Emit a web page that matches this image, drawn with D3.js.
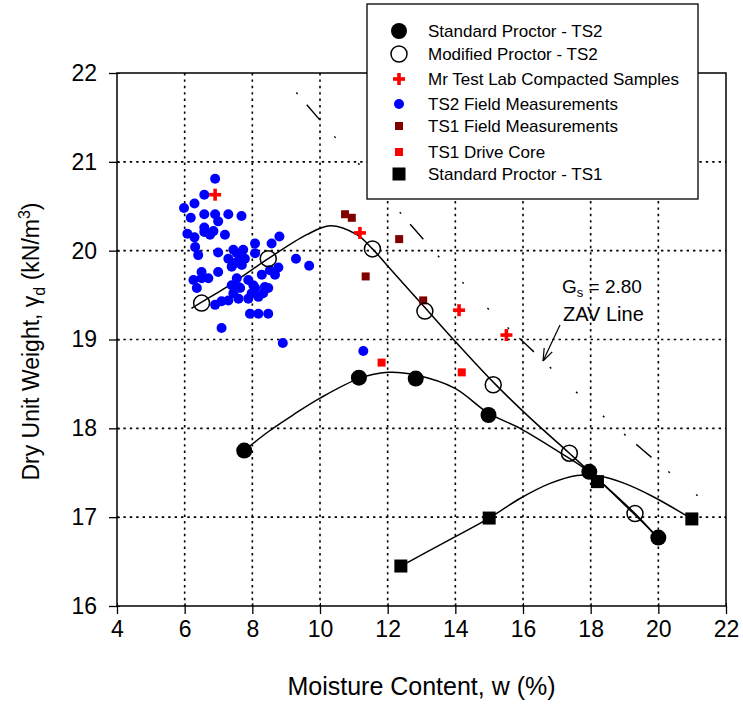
<!DOCTYPE html>
<html>
<head>
<meta charset="utf-8">
<script src="https://cdn.jsdelivr.net/npm/d3@7"></script>
<style>
  html, body { margin: 0; padding: 0; background: #fff; }
  svg { display: block; font-family: Arial, "Liberation Sans", Helvetica, sans-serif; }
</style>
</head>
<body>
<svg id="chart" width="743" height="710"></svg>
<script>
// ---- Data: moisture content w (%) vs dry unit weight (kN/m3) ----
const stdTS2W  = [7.76, 11.15, 12.83, 14.98, 17.96, 20.0];
const stdTS2Gd = [17.75, 18.57, 18.56, 18.15, 17.51, 16.77];

const modTS2W  = [6.50, 8.47, 11.55, 13.10, 15.12, 17.37, 19.31];
const modTS2Gd = [19.41, 19.91, 20.02, 19.32, 18.49, 17.72, 17.04];

const labW  = [6.90, 11.18, 14.11, 15.51];
const labGd = [20.63, 20.20, 19.33, 19.05];

const ts2FieldW  = [6.90, 6.58, 6.29, 5.98, 6.18, 6.58, 6.90, 6.99, 7.29, 7.68,
                    6.08, 6.29, 6.58, 6.58, 6.85, 6.75, 7.19, 6.31, 6.40, 6.99,
                    7.44, 7.54, 7.29, 7.64, 7.49, 7.39, 7.69, 6.50, 6.99, 6.26,
                    6.50, 6.70, 6.36, 7.54, 7.59, 7.39, 7.44, 7.29, 7.59, 7.09,
                    6.90, 7.09, 8.08, 8.57, 8.80, 7.73, 8.08, 7.78, 9.29, 9.68,
                    8.77, 8.52, 8.67, 8.28, 7.88, 8.03, 8.08, 8.37, 8.47, 8.32,
                    7.64, 7.88, 8.18, 7.98, 7.93, 8.18, 8.47, 8.90, 11.28];
const ts2FieldGd = [20.81, 20.63, 20.53, 20.48, 20.37, 20.41, 20.41, 20.33, 20.41, 20.39,
                    20.19, 20.15, 20.26, 20.21, 20.22, 20.18, 20.18, 20.04, 19.95, 19.98,
                    20.01, 19.97, 19.91, 19.91, 19.86, 19.82, 19.84, 19.76, 19.76, 19.67,
                    19.69, 19.69, 19.58, 19.69, 19.59, 19.61, 19.52, 19.44, 19.46, 19.43,
                    19.39, 19.13, 20.08, 20.08, 20.16, 20.01, 19.97, 19.91, 19.91, 19.83,
                    19.81, 19.78, 19.73, 19.73, 19.67, 19.61, 19.58, 19.59, 19.58, 19.52,
                    19.58, 19.46, 19.48, 19.52, 19.29, 19.29, 19.29, 18.96, 18.87];

const ts1FieldW  = [10.74, 10.94, 12.34, 11.35, 13.05];
const ts1FieldGd = [20.41, 20.37, 20.13, 19.71, 19.44];

const driveCoreW  = [11.82, 14.19];
const driveCoreGd = [18.74, 18.63];

const stdTS1W  = [12.39, 15.0, 18.2, 20.99];
const stdTS1Gd = [16.45, 16.99, 17.40, 16.98];

// Fitted compaction curves
const stdTS2FitW  = [7.76, 8.5, 9.2, 10.0, 11.15, 12.0, 12.83, 13.99, 14.98, 15.91, 17.0, 17.96, 19.0, 20.0];
const stdTS2FitGd = [17.75, 17.97, 18.15, 18.34, 18.56, 18.63, 18.60, 18.45, 18.17, 18.0, 17.75, 17.51, 17.14, 16.77];

const modTS2FitW  = [6.2, 6.5, 7.24, 7.78, 8.47, 9.61, 10.3, 11.09, 11.55, 12.02, 13.1, 14.04, 15.12, 16.2, 17.37, 18.0, 19.31, 19.85];
const modTS2FitGd = [19.35, 19.42, 19.59, 19.73, 19.91, 20.18, 20.28, 20.18, 20.02, 19.82, 19.36, 18.96, 18.52, 18.12, 17.72, 17.50, 17.04, 16.82];

const stdTS1FitW  = [12.3, 13.7, 15.0, 15.91, 16.8, 17.59, 18.28, 19.0, 19.85, 20.99];
const stdTS1FitGd = [16.43, 16.72, 16.99, 17.21, 17.38, 17.47, 17.46, 17.38, 17.23, 16.98];

// Zero-air-voids line, Gs = 2.80
const zavW  = [9.3, 10.0, 11.3, 12.75, 14.0, 15.2, 16.1, 17.8, 19.5, 21.2, 22.0];
const zavGd = [21.78, 21.47, 20.91, 20.26, 19.73, 19.26, 18.94, 18.33, 17.77, 17.23, 16.99];

const xTicks = [4, 6, 8, 10, 12, 14, 16, 18, 20, 22];
const yTicks = [16, 17, 18, 19, 20, 21, 22];

const legendLabels = [
  "Standard Proctor - TS2",
  "Modified Proctor - TS2",
  "Mr Test Lab Compacted Samples",
  "TS2 Field Measurements",
  "TS1 Field Measurements",
  "TS1 Drive Core",
  "Standard Proctor - TS1"
];
const legendMarkers = ["filledCircle", "openCircle", "plus", "blueDot", "maroonSquare", "redSquare", "blackSquare"];

// ---- Layout ----
const svg = d3.select("#chart");
const L = 117, R = 726, T = 73, B = 606;
const x = d3.scaleLinear().domain([4, 22]).range([L, R]);
const y = d3.scaleLinear().domain([16, 22]).range([B, T]);

const zip = (a, b) => a.map((v, i) => [v, b[i]]);

// Grid lines (dotted)
const grid = svg.append("g").attr("stroke", "#000").attr("stroke-width", 1.6).attr("stroke-dasharray", "2.4,4");
grid.selectAll("line.gx").data(xTicks.slice(1, -1)).join("line")
  .attr("x1", d => x(d)).attr("x2", d => x(d)).attr("y1", T).attr("y2", B);
grid.selectAll("line.gy").data(yTicks.slice(1, -1)).join("line")
  .attr("x1", L).attr("x2", R).attr("y1", d => y(d)).attr("y2", d => y(d));

// ZAV line
const zavLine = d3.line().x(d => x(d[0])).y(d => y(d[1])).curve(d3.curveMonotoneX);
svg.append("path").datum(zip(zavW, zavGd)).attr("d", zavLine)
  .attr("fill", "none").attr("stroke", "#000").attr("stroke-width", 1.4)
  .attr("stroke-dasharray", "2,14,20,22,2,34,2,34,2,26");

// Fitted curves
const fit = d3.line().x(d => x(d[0])).y(d => y(d[1])).curve(d3.curveCatmullRom.alpha(0.5));
[[stdTS2FitW, stdTS2FitGd], [modTS2FitW, modTS2FitGd], [stdTS1FitW, stdTS1FitGd]].forEach(([w, g]) => {
  svg.append("path").datum(zip(w, g)).attr("d", fit)
    .attr("fill", "none").attr("stroke", "#000").attr("stroke-width", 1.5);
});

// Marker drawing helper
function drawMarker(g, type, cx, cy) {
  switch (type) {
    case "filledCircle":
      g.append("circle").attr("cx", cx).attr("cy", cy).attr("r", 8).attr("fill", "#000"); break;
    case "openCircle":
      g.append("circle").attr("cx", cx).attr("cy", cy).attr("r", 8).attr("fill", "none")
        .attr("stroke", "#000").attr("stroke-width", 1.5); break;
    case "plus":
      g.append("rect").attr("x", cx - 6).attr("y", cy - 1.8).attr("width", 12).attr("height", 3.6).attr("fill", "#ff0000");
      g.append("rect").attr("x", cx - 1.8).attr("y", cy - 6).attr("width", 3.6).attr("height", 12).attr("fill", "#ff0000"); break;
    case "blueDot":
      g.append("circle").attr("cx", cx).attr("cy", cy).attr("r", 5).attr("fill", "#0000ff"); break;
    case "maroonSquare":
      g.append("rect").attr("x", cx - 4).attr("y", cy - 4).attr("width", 8).attr("height", 8).attr("fill", "#800000"); break;
    case "redSquare":
      g.append("rect").attr("x", cx - 4).attr("y", cy - 4).attr("width", 8).attr("height", 8).attr("fill", "#ff0000"); break;
    case "blackSquare":
      g.append("rect").attr("x", cx - 6.5).attr("y", cy - 6.5).attr("width", 13).attr("height", 13).attr("fill", "#000"); break;
  }
}

// Data points
const pts = svg.append("g");
const series = [
  [ts2FieldW, ts2FieldGd, "blueDot"],
  [ts1FieldW, ts1FieldGd, "maroonSquare"],
  [driveCoreW, driveCoreGd, "redSquare"],
  [labW, labGd, "plus"],
  [modTS2W, modTS2Gd, "openCircle"],
  [stdTS2W, stdTS2Gd, "filledCircle"],
  [stdTS1W, stdTS1Gd, "blackSquare"]
];
series.forEach(([w, g, type]) => {
  w.forEach((v, i) => drawMarker(pts, type, x(v), y(g[i])));
});

// Axes: frame with crossing ticks
const axisFont = 23;
const xAxis = svg.append("g").attr("transform", `translate(0,${B})`)
  .call(d3.axisBottom(x).tickValues(xTicks).tickSize(8).tickPadding(7).tickFormat(d3.format("d")));
const yAxis = svg.append("g").attr("transform", `translate(${L},0)`)
  .call(d3.axisLeft(y).tickValues(yTicks).tickSize(8).tickPadding(12).tickFormat(d3.format("d")));
svg.append("g").attr("transform", `translate(0,${B})`)
  .call(d3.axisTop(x).tickValues(xTicks).tickSize(3).tickFormat(""))
  .select(".domain").remove();
svg.append("g").attr("transform", `translate(${L},0)`)
  .call(d3.axisRight(y).tickValues(yTicks).tickSize(3).tickFormat(""))
  .select(".domain").remove();
[xAxis, yAxis].forEach(a => {
  a.select(".domain").remove();
  a.selectAll(".tick line").attr("stroke", "#000").attr("stroke-width", 1.3);
  a.selectAll(".tick text").attr("font-size", axisFont).attr("fill", "#000")
    .attr("font-family", "Arial, 'Liberation Sans', sans-serif");
});
svg.append("rect").attr("x", L).attr("y", T).attr("width", R - L).attr("height", B - T)
  .attr("fill", "none").attr("stroke", "#000").attr("stroke-width", 1.5);

// Axis titles
svg.append("text").attr("x", (L + R) / 2).attr("y", 695).attr("text-anchor", "middle")
  .attr("font-size", 25).text("Moisture Content, w (%)");

const yt = svg.append("text").attr("transform", `translate(39,${(T + B) / 2 + 2}) rotate(-90)`)
  .attr("text-anchor", "middle").attr("font-size", 23);
yt.append("tspan").text("Dry Unit Weight, γ");
yt.append("tspan").attr("font-size", 16).attr("dy", 6).text("d");
yt.append("tspan").attr("dy", -6).text(" (kN/m");
yt.append("tspan").attr("font-size", 16).attr("dy", -9).text("3");
yt.append("tspan").attr("dy", 9).text(")");

// ZAV annotation
const ann = svg.append("text").attr("x", 562).attr("y", 293).attr("font-size", 19);
ann.append("tspan").text("G");
ann.append("tspan").attr("font-size", 13).attr("dy", 4).text("s");
ann.append("tspan").attr("dy", -4).text(" = 2.80");
svg.append("text").attr("x", 563).attr("y", 321).attr("font-size", 20).text("ZAV Line");
const tip = [543, 361], tail = [560, 325];
svg.append("line").attr("x1", tail[0]).attr("y1", tail[1]).attr("x2", tip[0]).attr("y2", tip[1])
  .attr("stroke", "#000").attr("stroke-width", 1.2);
{
  const ang = Math.atan2(tail[1] - tip[1], tail[0] - tip[0]);
  [-0.35, 0.35].forEach(da => {
    svg.append("line").attr("x1", tip[0]).attr("y1", tip[1])
      .attr("x2", tip[0] + 13 * Math.cos(ang + da)).attr("y2", tip[1] + 13 * Math.sin(ang + da))
      .attr("stroke", "#000").attr("stroke-width", 1.2);
  });
}

// Legend
const lg = svg.append("g");
lg.append("rect").attr("x", 367).attr("y", 4).attr("width", 331).attr("height", 195)
  .attr("fill", "#fff").attr("stroke", "#000").attr("stroke-width", 1.3);
const rowY = [31, 54, 79, 104, 126, 152, 174];
legendLabels.forEach((lab, i) => {
  drawMarker(lg, legendMarkers[i], 399, rowY[i]);
  lg.append("text").attr("x", 428).attr("y", rowY[i]).attr("dy", "0.36em")
    .attr("font-size", 17).text(lab);
});
</script>
</body>
</html>
